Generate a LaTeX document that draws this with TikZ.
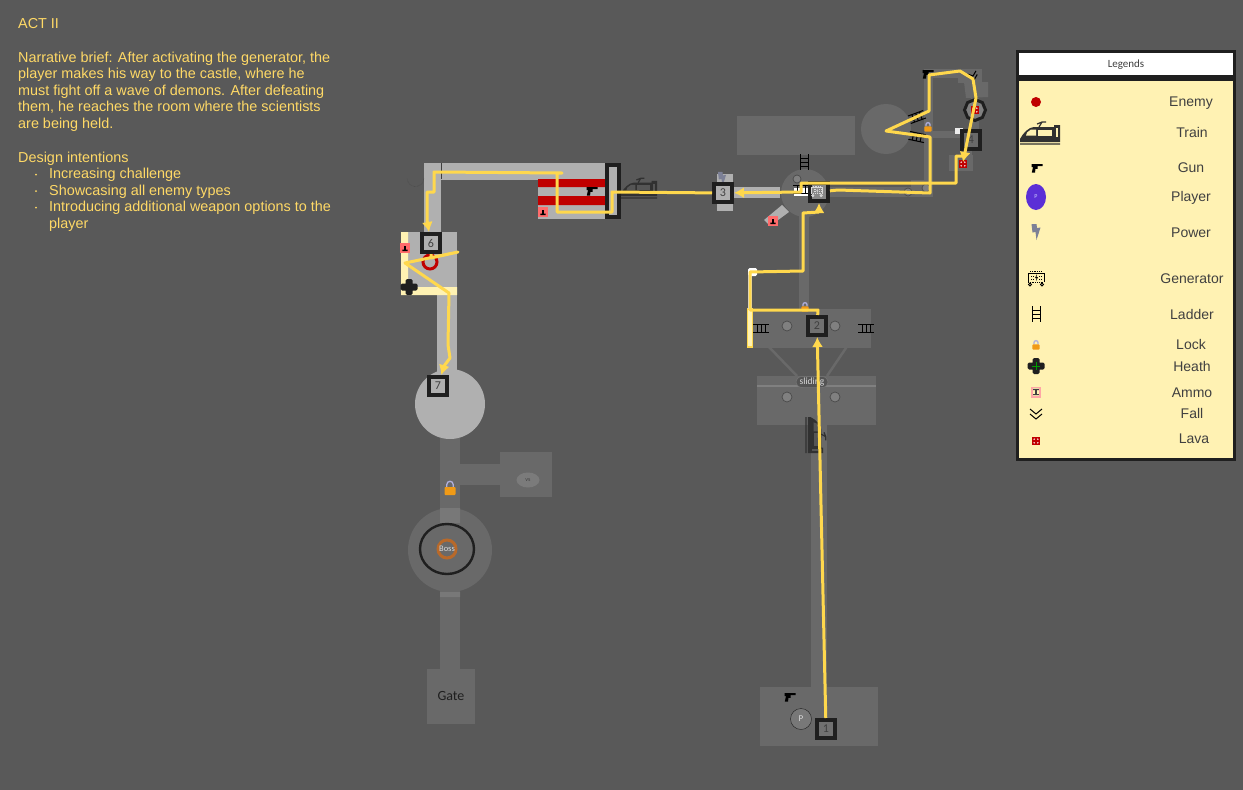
\documentclass[tikz,border=0pt]{standalone}
\usepackage{fontspec}
\setmainfont{Liberation Sans}
\newfontfamily\carlito{Carlito}
\usetikzlibrary{arrows.meta,shapes.geometric}
\definecolor{bgc}{HTML}{595959}
\definecolor{roomd}{HTML}{696969}
\definecolor{rooml}{HTML}{B0B0B0}
\definecolor{inkk}{HTML}{1F1F1F}
\definecolor{cream}{HTML}{FFF2B3}
\definecolor{routec}{HTML}{FFD84D}
\definecolor{brief}{HTML}{FFD966}
\definecolor{redband}{HTML}{C00000}
\definecolor{pinkc}{HTML}{FF6B6B}
\definecolor{lockc}{HTML}{F09A16}
\definecolor{labelc}{HTML}{404040}
\definecolor{playerc}{HTML}{5B2FD6}
\definecolor{boltc}{HTML}{7C8096}
\definecolor{bossc}{HTML}{B8692A}
\definecolor{trainwin}{HTML}{555555}
\tikzset{
  x=1pt,y=-1pt,
  dark/.style={fill=roomd},
  light/.style={fill=rooml},
  station/.style={draw=inkk,line width=4pt,minimum size=18pt,inner sep=0pt,text=labelc,font=\carlito\fontsize{12}{12}\selectfont},
  route/.style={draw=routec,line width=3pt,line join=round},
  arrowroute/.style={route,-{Latex[length=10pt,width=11pt]}},
  legendtext/.style={text=labelc,font=\fontsize{14}{14}\selectfont,inner sep=0pt,anchor=base},
  spot/.style={draw=roomd!70!black,fill=roomd!85!white,line width=.7pt},
  briefnode/.style={anchor=north west,inner sep=0pt,text=brief,align=left,font=\fontsize{14.4}{16.6}\selectfont},
  ladderpic/.pic={
    \draw[line width=1pt,black] (-4,-8) -- (-4,8) (4,-8) -- (4,8) (-4,-4) -- (4,-4) (-4,0) -- (4,0) (-4,4) -- (4,4);
  },
  gunpic/.pic={
    \fill[black] (-5.5,-4) -- (5.5,-4) -- (5.5,-1.8) -- (0.5,-1.8) -- (0.5,.8) -- (-1.5,.8) -- (-2,4.5) -- (-5.2,4.5) -- (-4,-.8) -- (-5.5,-.8) -- cycle;
  },
  lockpic/.pic={
    \draw[line width=1.3pt,color=gray!60!blue!45!white] (-3.2,-1) -- (-3.2,-3.5) arc[start angle=180,end angle=360,radius=3.2] -- (3.2,-1);
    \fill[lockc,rounded corners=.8pt] (-5.5,-1) rectangle (5.5,7);
  },
  trainpic/.pic={
    \fill[inkk!92!white] (-20,5) .. controls (-17,-1) and (-11,-7) .. (-6,-7) -- (14,-7) -- (14,-9) -- (20,-9) -- (20,8) -- (-20,8) -- cycle;
    \draw[inkk!92!white,line width=1.2pt] (-20,10) -- (20,10) (-1,-7) -- (2,-12) -- (6,-12) (-3,-10) -- (2,-12);
    \fill[#1] (-13,-1.5) -- (-9,-4.5) -- (-4,-4.5) -- (-4,1.5) -- (-14,1.5) -- cycle;
    \fill[#1] (-2,-4.5) rectangle (12,1.5);
    \fill[#1] (15.5,-6) rectangle (17.5,3);
  },
  healpic/.pic={
    \fill[inkk,rounded corners=1.5pt] (-8.5,-3.5) rectangle (8.5,3.5) (-3.5,-8) rectangle (3.5,8);
    \draw[#1,line width=.5pt] (-4,0) -- (4,0) (0,-4) -- (0,4);
  },
  lavapic/.pic={
    \fill[#1] (-3.6,-3.6) rectangle (3.6,3.6);
    \fill[white] (-1.8,-1.8) circle[radius=.8] (1.8,-1.8) circle[radius=.8] (-1.8,1.8) circle[radius=.8] (1.8,1.8) circle[radius=.8];
  },
  ammopic/.pic={
    \fill[#1] (-5,-5) rectangle (5,5);
    \fill[black] (-.8,-2) rectangle (.8,1.5) (-2.6,1.5) rectangle (2.6,3);
  },
  ammokeypic/.pic={
    \fill[pinkc!60!white] (-5,-5.5) rectangle (5,5.5);
    \fill[cream] (-3.4,-4) rectangle (3.4,4);
    \fill[labelc] (-.8,-2.5) rectangle (.8,2.5) (-2.8,-3.2) rectangle (2.8,-2) (-2.8,2) rectangle (2.8,3.2);
  },
  fallpic/.pic={
    \draw[black,line width=1pt] (-6,-5) -- (0,0) -- (6,-5) (-6,0) -- (0,5) -- (6,0);
  },
  boltpic/.pic={
    \fill[#1] (-4.5,-8) -- (.5,-8) -- (1,-4) -- (4.5,-4.5) -- (.5,8) -- (-.5,0) -- (-3.5,.5) -- cycle;
  },
  generatorpic/.pic={
    \draw[#1,line width=.8pt,densely dotted] (-6,-7) -- (6,-7);
    \draw[#1,line width=.8pt] (-8,-5) -- (8,-5) -- (8,4) (-8,-5) -- (-8,4);
    \draw[#1,line width=.8pt,densely dotted] (-8,4) -- (8,4) (-5,-2) -- (-2,-2) (3,-2) -- (6,-2) (-5,1) -- (-2,1) (3,1) -- (6,1);
    \fill[#1] (1,-4) -- (-1,0) -- (.5,0) -- (0,3) -- (2,-1) -- (.5,-1) -- cycle;
    \draw[#1,line width=.9pt] (-6,6.5) circle[radius=1.5] (6,6.5) circle[radius=1.5];
  },
}
\begin{document}
\begin{tikzpicture}
\useasboundingbox (0,0) rectangle (1243,790);
\fill[bgc] (0,0) rectangle (1243,790);

% ---- brief
\node[briefnode] (actitle) at (18,18.5) {ACT II};
\node[briefnode] (narrative) at (18,51.5) {Narrative brief: After activating the generator, the\\player makes his way to the castle, where he\\must fight off a wave of demons. After defeating\\them, he reaches the room where the scientists\\are being held.};
\node[briefnode] (design) at (18,151.5) {Design intentions};
\node[briefnode] (intentA) at (49,168) {Increasing challenge};
\node[briefnode] (intentB) at (49,184.5) {Showcasing all enemy types};
\node[briefnode] (intentC) at (49,201) {Introducing additional weapon options to the\\player};
\fill[brief] (36,174.5) circle[radius=1] (36,191) circle[radius=1] (36,207.5) circle[radius=1];

% ---- lower left (dark rooms)
\fill[dark] (450,550) circle[radius=42];
\fill[dark] (440,438) rectangle (460,669);
\fill[roomd!90!white] (440,508) rectangle (460,523) (440,592) rectangle (460,597);
\fill[dark] (427,669) rectangle (475,724);
\fill[dark] (460,464) rectangle (500,485);
\fill[dark] (500,452) rectangle (552,497);
\node[ellipse,fill=roomd!88!white,minimum width=23pt,minimum height=15pt,inner sep=0pt,text=labelc,font=\carlito\fontsize{6}{6}\selectfont] (versus) at (528,480) {vs};
\draw[inkk,line width=2.4pt] (447,549) ellipse[x radius=27,y radius=25];
\node[circle,draw=bossc,line width=3pt,minimum size=18pt,inner sep=0pt,text=white!85!black,font=\carlito\fontsize{8.5}{8.5}\selectfont] (boss) at (447,549) {Boss};
\node[inner sep=0pt,text=inkk,font=\carlito\fontsize{14}{14}\selectfont] (gate) at (451,696) {Gate};
\pic at (450,488) {lockpic};

% ---- light rooms (castle)
\fill[light] (424,163) rectangle (606,180);
\fill[light] (424,163) rectangle (441,232);
\fill[light] (401,232) rectangle (457,295);
\fill[light] (437,295) rectangle (457,375);
\fill[light] (450,404) circle[radius=35];
\fill[light] (538,178) rectangle (605,219);
\fill[redband] (538,179) rectangle (605,187) (538,196) rectangle (605,205);
\draw[inkk,line width=3.6pt] (607,165) rectangle (619,217);
\fill[rooml] (609,167) rectangle (617,215);
\fill[cream] (401,232) rectangle (408,295) (401,287) rectangle (457,295);
\draw[redband,line width=3pt] (430,262) circle[radius=7];
\draw[labelc,line width=.4pt,densely dotted] (424,178) arc[start angle=180,end angle=360,radius=-8.5];
\draw[labelc,line width=.4pt] (441,163) -- (441,179);
\pic at (592,191) {gunpic};
\pic at (409,287) {healpic=inkk};
\pic at (405,248) {ammopic=pinkc};
\pic at (543,212) {ammopic=pinkc};
\pic[scale=.9] at (639,189) {trainpic=trainwin};

% ---- south wing
\fill[dark] (760,687) rectangle (878,746);
\fill[dark] (811,425) rectangle (827,687);
\fill[dark] (757,376) rectangle (876,425);
\fill[roomd!85!white] (757,384.5) rectangle (876,387);
\fill[dark] (750,309) rectangle (871,348);
\fill[dark] (799,205) rectangle (809,309);
\draw[roomd,line width=2.5pt] (769,347) -- (797,376) (848,345) -- (827,376);
\node[circle,draw=inkk,fill=roomd!90!white,line width=.4pt,minimum size=21pt,inner sep=0pt,text=white!85!black,font=\carlito\fontsize{9}{9}\selectfont] (player) at (801,719) {P};
\pic at (790,697) {gunpic};
\node[spot,circle,minimum size=10pt,inner sep=0pt] (spotA) at (787,326) {};
\node[spot,circle,minimum size=10pt,inner sep=0pt] (spotB) at (835,326) {};
\node[spot,circle,minimum size=10pt,inner sep=0pt] (spotC) at (787,397) {};
\node[spot,circle,minimum size=10pt,inner sep=0pt] (spotD) at (835,397) {};
\node[rounded corners=6pt,fill=roomd!80!black,draw=roomd!90!white,line width=.5pt,minimum width=32pt,minimum height=11pt,inner sep=0pt,text=white!85!black,font=\carlito\fontsize{9.5}{9.5}\selectfont] (sliding) at (812,382) {sliding};
\pic[rotate=90] at (761,328) {ladderpic};
\pic[rotate=90] at (866,328) {ladderpic};
\pic[scale=.9,rotate=-90] at (815,435) {trainpic=trainwin};
\pic[scale=.65] at (805,307) {lockpic};
\draw[routec,fill=cream,line width=1.2pt] (747.5,309) rectangle (752.5,347);
\fill[gray!60!blue!25!white] (748,272) rectangle (752,309);
\fill[white,rounded corners=1.5pt] (748,268) rectangle (757,276);

% ---- north wing
\fill[dark] (737,116) rectangle (855,155);
\fill[dark] (886,129) circle[radius=25];
\fill[dark] (805,193) circle[radius=24];
\fill[dark] (830,187) rectangle (933,197);
\fill[dark] (911,180) rectangle (933,197);
\fill[dark] (924,69) rectangle (933,197);
\fill[dark] (924,69) rectangle (982,78);
\fill[dark] (958,78) rectangle (982,83);
\fill[dark] (964,82) -- (988,82) -- (988,97) -- (966,98) -- cycle;
\fill[dark] (971,98) rectangle (979,110);
\fill[dark] (971,120) rectangle (979,132);
\fill[dark] (933,131) rectangle (962,138);
\fill[dark] (966,148) rectangle (972,155);
\fill[dark] (949,155) rectangle (973,171);
\fill[rooml] (733,187) rectangle (780,198);
\fill[rooml] (717,174) rectangle (733,211);
\fill[rooml] (770,226) -- (764,220) -- (782,205) -- (789,212) -- cycle;
\node[regular polygon,regular polygon sides=8,shape border rotate=22.5,draw=inkk,fill=gray,line width=3pt,minimum size=21pt,inner sep=0pt] (lavaroom) at (975,110) {};
\fill[white!85!gray] (955,134) rectangle (963,128);
\node[spot,circle,minimum size=8pt,inner sep=0pt] (spotE) at (908,192) {};
\node[spot,circle,minimum size=8pt,inner sep=0pt] (spotF) at (926,188) {};
\node[spot,circle,minimum size=8pt,inner sep=0pt] (spotG) at (797,179) {};
\pic at (804,162) {ladderpic};
\fill[white] (794,188) rectangle (808,196);
\pic[rotate=90] at (801,189) {ladderpic};
\pic[rotate=-70] at (917,117) {ladderpic};
\pic[rotate=-102] at (917,137) {ladderpic};
\pic[scale=.65] at (928,127) {lockpic};
\pic at (928,74) {gunpic};
\pic[scale=.75,rotate=20] at (973,76) {fallpic};
\pic at (975,110) {lavapic=redband};
\pic at (963,164) {lavapic=redband};
\pic[scale=.9] at (722,179) {boltpic=boltc};
\pic at (773,221) {ammopic=pinkc};

% ---- stations
\node[station,fill=roomd!95!white] (n1) at (826,729) {1};
\node[station,fill=roomd!95!white] (n2) at (817,326) {2};
\node[station,fill=rooml] (n3) at (723,193) {3};
\node[station,fill=roomd] (n4) at (971,140) {4};
\node[station,fill=roomd!80!white] (n8) at (819,192) {};
\node[station,fill=rooml] (n6) at (431,243) {6};
\node[station,fill=rooml] (n7) at (438,386) {7};
\pic[scale=.7] at (817,191) {generatorpic=white!85!black};

% ---- route waypoints
\coordinate (a1) at (818,310);
\coordinate (a2) at (750,310);
\coordinate (a3) at (750,272);
\coordinate (a4) at (803,271);
\coordinate (a5) at (803,213);
\coordinate (a6) at (819,212);
\coordinate (b1) at (838,190);
\coordinate (b2) at (930,193);
\coordinate (b3) at (930,137);
\coordinate (b4) at (886,131);
\coordinate (b5) at (929,111);
\coordinate (b6) at (929,75);
\coordinate (b7) at (960,71);
\coordinate (b8) at (973,79);
\coordinate (b9) at (976,98);
\coordinate (b10) at (963,162);
\coordinate (c1) at (964,156);
\coordinate (c2) at (956,156);
\coordinate (c3) at (956,183);
\coordinate (c4) at (801,183);
\coordinate (c5) at (801,192);
\coordinate (d1) at (612,192);
\coordinate (d2) at (612,212);
\coordinate (d3) at (557,212);
\coordinate (d4) at (557,173);
\coordinate (d5) at (562,173);
\coordinate (d6) at (434,172);
\coordinate (d7) at (434,192);
\coordinate (d8) at (427,192);
\coordinate (d9) at (427,220);
\coordinate (e1) at (431,258);
\coordinate (e2) at (458,252);
\coordinate (e3) at (405,263);
\coordinate (e4) at (449,293);
\coordinate (e5) at (448,345);
\coordinate (e6) at (450,358);
\coordinate (e7) at (444,366);

\draw[arrowroute] (n1) -- (n2);
\draw[arrowroute] (n2) -- (a1) -- (a2) -- (a3) -- (a4) -- (a5) -- (a6) -- (n8);
\draw[arrowroute] (n8) -- (b1) -- (b2) -- (b3) -- (b4) -- (b5) -- (b6) -- (b7) -- (b8) -- (b9) -- (b10);
\draw[arrowroute] (c1) -- (c2) -- (c3) -- (c4) -- (c5) -- (n3);
\draw[arrowroute] (n3) -- (d1) -- (d2) -- (d3) -- (d4) -- (d5) -- (d6) -- (d7) -- (d8) -- (d9) -- (n6);
\draw[arrowroute] (n6) -- (e1) -- (e2) -- (e3) -- (e4) -- (e5) -- (e6) -- (e7) -- (n7);

% ---- legend
\fill[inkk] (1016,50) rectangle (1236,461);
\fill[white] (1019,53) rectangle (1233,74.5);
\fill[cream] (1019,81) rectangle (1233,457.5);
\node[inner sep=0pt,text=labelc,font=\carlito\fontsize{11}{11}\selectfont] (legendtitle) at (1126,65) {Legends};
\fill[redband] (1036,102) circle[radius=5];
\pic at (1040,134) {trainpic=cream};
\pic at (1037,168) {gunpic};
\node[ellipse,fill=playerc,minimum width=20pt,minimum height=26pt,inner sep=0pt,text=white!80!blue,font=\carlito\fontsize{6}{6}\selectfont] (legendplayer) at (1036,197) {P};
\pic at (1036,232) {boltpic=boltc};
\pic at (1036,278) {generatorpic=black};
\pic at (1036,314) {ladderpic};
\pic[scale=.65] at (1036,345) {lockpic};
\pic at (1036,366) {healpic=green!60!black};
\pic at (1036,392) {ammokeypic};
\pic at (1036,414) {fallpic};
\pic at (1036,441) {lavapic=redband};
\node[legendtext] (lEnemy) at (1191,106) {Enemy};
\node[legendtext] (lTrain) at (1192,137) {Train};
\node[legendtext] (lGun) at (1191,172) {Gun};
\node[legendtext] (lPlayer) at (1191,201) {Player};
\node[legendtext] (lPower) at (1191,237) {Power};
\node[legendtext] (lGenerator) at (1192,283) {Generator};
\node[legendtext] (lLadder) at (1192,319) {Ladder};
\node[legendtext] (lLock) at (1191,349) {Lock};
\node[legendtext] (lHeath) at (1192,371) {Heath};
\node[legendtext] (lAmmo) at (1192,397) {Ammo};
\node[legendtext] (lFall) at (1192,418) {Fall};
\node[legendtext] (lLava) at (1194,443) {Lava};
\end{tikzpicture}
\end{document}
